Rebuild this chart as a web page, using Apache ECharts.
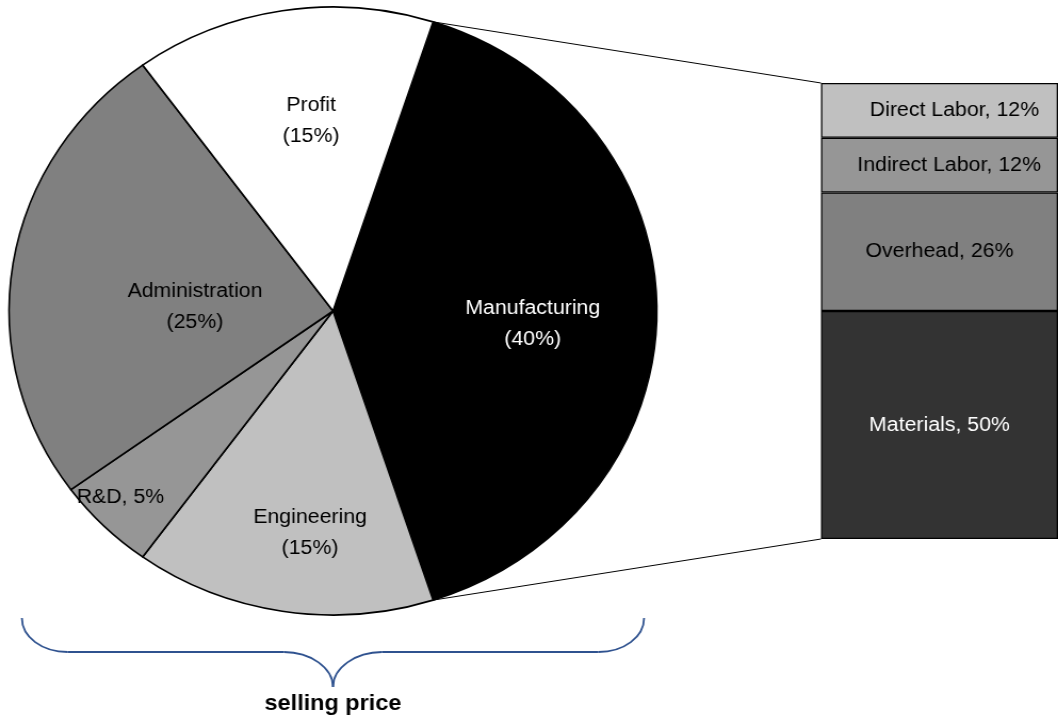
<!DOCTYPE html>
<html>
<head>
<meta charset="utf-8">
<script src="https://cdn.jsdelivr.net/npm/echarts@6/dist/echarts.min.js"></script>
<style>
  html, body { margin: 0; padding: 0; background: #fff; overflow: hidden; }
  /* the reference is drawn slightly wider than tall, so stretch the whole chart */
  #chart { width: 993px; height: 719px; transform: scaleX(1.0655); transform-origin: 0 0; }
</style>
</head>
<body>
<div id="chart"></div>
<script>
// selling price breakdown (pie)
const priceNames = ['Manufacturing', 'Engineering', 'R&D', 'Administration', 'Profit'];
const priceValues = [40, 15, 5, 25, 15];
const priceColors = ['#000000', '#c0c0c0', '#969696', '#808080', '#ffffff'];
const priceLabelColors = ['#ffffff', '#000000', '#000000', '#000000', '#000000'];

// manufacturing breakdown (stacked bar), bottom to top
const mfgNames = ['Materials', 'Overhead', 'Indirect Labor', 'Direct Labor'];
const mfgValues = [50, 26, 12, 12];
const mfgColors = ['#333333', '#808080', '#969696', '#c0c0c0'];
const mfgLabelColors = ['#ffffff', '#000000', '#000000', '#000000'];
const mfgLabelShift = [0, 0, 9, 14];

// layout (unstretched pixels)
const pieCenter = [312.5, 311];
const pieRadius = 304;
const pieStart = 72;  // manufacturing starts 18 deg right of the top
const pieLabelPos = [[500, 324], [291, 533], [113, 497], [183, 307], [292, 121]];
const font = 'Liberation Sans, Arial, sans-serif';

const chart = echarts.init(document.getElementById('chart'));

const barSeries = mfgNames.map((name, i) => ({
    name: name,
    type: 'bar',
    stack: 'mfg',
    barWidth: '100%',
    data: [mfgValues[i]],
    itemStyle: { color: mfgColors[i], borderColor: '#000', borderWidth: 1.3 },
    label: {
        show: true,
        position: 'inside',
        formatter: '{a}, {c}%',
        color: mfgLabelColors[i],
        fontFamily: font,
        fontSize: 20,
        offset: [mfgLabelShift[i], 0]
    },
    silent: true
}));

const option = {
    animation: false,
    grid: { left: 770.5, top: 83, width: 240, height: 456 },
    xAxis: { type: 'category', data: ['Manufacturing'], show: false },
    yAxis: { type: 'value', min: 0, max: 100, show: false },
    series: [
        {
            type: 'pie',
            center: pieCenter,
            radius: pieRadius,
            startAngle: pieStart,
            clockwise: true,
            silent: true,
            data: priceNames.map((name, i) => ({
                name: name,
                value: priceValues[i],
                itemStyle: { color: priceColors[i] },
                label: { color: priceLabelColors[i] }
            })),
            itemStyle: { borderColor: '#000', borderWidth: 1.6 },
            label: {
                show: true,
                position: 'inside',
                fontFamily: font,
                fontSize: 20,
                lineHeight: 31,
                formatter: p => p.value < 10 ? `${p.name}, ${p.value}%` : `${p.name}\n(${p.value}%)`
            },
            labelLine: { show: false },
            labelLayout: p => {
                const pos = pieLabelPos[p.dataIndex];
                return { x: pos[0], y: pos[1], align: 'center', verticalAlign: 'middle' };
            }
        },
        ...barSeries
    ]
};
chart.setOption(option);

// connector lines from the manufacturing slice edges to the bar corners
const rad = Math.PI / 180;
const sweep = priceValues[0] / priceValues.reduce((a, b) => a + b, 0) * 360;
const pTop = [pieCenter[0] + pieRadius * Math.cos(pieStart * rad), pieCenter[1] - pieRadius * Math.sin(pieStart * rad)];
const endAngle = pieStart - sweep;
const pBottom = [pieCenter[0] + pieRadius * Math.cos(endAngle * rad), pieCenter[1] - pieRadius * Math.sin(endAngle * rad)];
const barTop = chart.convertToPixel({ yAxisIndex: 0 }, 100);
const barBottom = chart.convertToPixel({ yAxisIndex: 0 }, 0);
const barLeft = option.grid.left;

// curly brace under the pie
const bx0 = pieCenter[0] - 292, bx1 = pieCenter[0] + 292, bm = pieCenter[0];
const by0 = 618, by1 = 652, by2 = 687;
const braceStyle = { fill: null, stroke: '#2f528f', lineWidth: 1.8 };
const braceParts = [
    { type: 'bezierCurve', shape: { x1: bx0, y1: by0, cpx1: bx0, cpy1: by0 + 19, cpx2: bx0 + 19, cpy2: by1, x2: bx0 + 43, y2: by1 } },
    { type: 'line', shape: { x1: bx0 + 43, y1: by1, x2: bm - 46, y2: by1 } },
    { type: 'bezierCurve', shape: { x1: bm - 46, y1: by1, cpx1: bm - 21, cpy1: by1, cpx2: bm, cpy2: by1 + 16, x2: bm, y2: by2 } },
    { type: 'bezierCurve', shape: { x1: bm, y1: by2, cpx1: bm, cpy1: by1 + 16, cpx2: bm + 21, cpy2: by1, x2: bm + 46, y2: by1 } },
    { type: 'line', shape: { x1: bm + 46, y1: by1, x2: bx1 - 43, y2: by1 } },
    { type: 'bezierCurve', shape: { x1: bx1 - 43, y1: by1, cpx1: bx1 - 19, cpy1: by1, cpx2: bx1, cpy2: by0 + 19, x2: bx1, y2: by0 } }
].map(part => Object.assign(part, { style: braceStyle, silent: true }));

chart.setOption({
    graphic: [
        { type: 'line', shape: { x1: pTop[0], y1: pTop[1], x2: barLeft, y2: barTop }, style: { stroke: '#000', lineWidth: 1 }, z: 10 },
        { type: 'line', shape: { x1: pBottom[0], y1: pBottom[1], x2: barLeft, y2: barBottom }, style: { stroke: '#000', lineWidth: 1 }, z: 10 },
        ...braceParts,
        {
            type: 'text', x: bm, y: 704,
            style: { text: 'selling price', font: 'bold 22px ' + font, fill: '#000', align: 'center', verticalAlign: 'middle' }
        }
    ]
});
</script>
</body>
</html>
